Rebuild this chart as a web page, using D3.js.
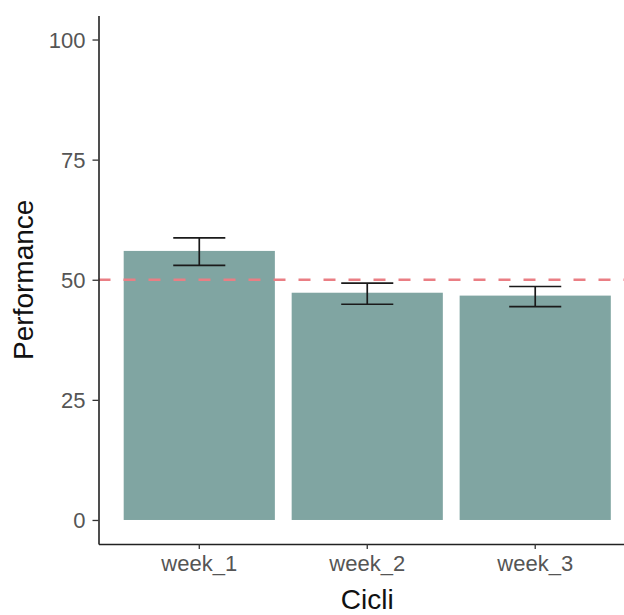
<!DOCTYPE html>
<html>
<head>
<meta charset="utf-8">
<script src="https://cdn.jsdelivr.net/npm/d3@7"></script>
<style>
  body { margin: 0; background: #fff; }
  text { font-family: "Liberation Sans", Arial, sans-serif; }
</style>
</head>
<body>
<div id="wrapper"></div>
<script>
const weeks = ["week_1", "week_2", "week_3"]
const performance = [56.0, 47.3, 46.7]
const errLow = [53.0, 44.9, 44.4]
const errHigh = [58.7, 49.3, 48.6]
const yTicks = [0, 25, 50, 75, 100]
const refLine = 50

function drawChart() {
  const dataset = weeks.map((w, i) => ({
    week: w, value: performance[i], lo: errLow[i], hi: errHigh[i]
  }))

  let dimensions = {
    width: 624,
    height: 615,
    margin: { top: 15.5, right: -12, bottom: 71, left: 98.5 },
  }
  dimensions.boundedWidth = dimensions.width - dimensions.margin.left - dimensions.margin.right
  dimensions.boundedHeight = dimensions.height - dimensions.margin.top - dimensions.margin.bottom

  const wrapper = d3.select("#wrapper")
    .append("svg")
    .attr("width", dimensions.width)
    .attr("height", dimensions.height)

  const bounds = wrapper.append("g")
    .attr("transform", `translate(${dimensions.margin.left},${dimensions.margin.top})`)

  const xScaler = d3.scaleBand()
    .domain(weeks)
    .range([0, dimensions.boundedWidth])
    .paddingInner(0.1)
    .paddingOuter(0.15)

  const yScaler = d3.scaleLinear()
    .domain([-5, 105])
    .range([dimensions.boundedHeight, 0])

  // bars
  bounds.append("g").selectAll("rect")
    .data(dataset)
    .enter()
    .append("rect")
    .attr("x", d => xScaler(d.week))
    .attr("y", d => yScaler(d.value))
    .attr("width", xScaler.bandwidth())
    .attr("height", d => yScaler(0) - yScaler(d.value))
    .attr("fill", "#80a5a2")

  // reference line
  bounds.append("line")
    .attr("x1", 0)
    .attr("x2", dimensions.boundedWidth)
    .attr("y1", yScaler(refLine))
    .attr("y2", yScaler(refLine))
    .attr("stroke", "#ea7e84")
    .attr("stroke-width", 2.5)
    .attr("stroke-dasharray", "12 13")

  // error bars
  const capHalf = xScaler.step() * 0.155
  const errGroups = bounds.append("g").selectAll("g")
    .data(dataset)
    .enter()
    .append("g")
    .attr("stroke", "#1a1a1a")
    .attr("stroke-width", 1.7)
  const cx = d => xScaler(d.week) + xScaler.bandwidth() / 2
  errGroups.append("line")
    .attr("x1", cx).attr("x2", cx)
    .attr("y1", d => yScaler(d.hi)).attr("y2", d => yScaler(d.lo))
  errGroups.append("line")
    .attr("x1", d => cx(d) - capHalf).attr("x2", d => cx(d) + capHalf)
    .attr("y1", d => yScaler(d.hi)).attr("y2", d => yScaler(d.hi))
  errGroups.append("line")
    .attr("x1", d => cx(d) - capHalf).attr("x2", d => cx(d) + capHalf)
    .attr("y1", d => yScaler(d.lo)).attr("y2", d => yScaler(d.lo))

  // axes
  const xAxisGen = d3.axisBottom(xScaler).tickSizeOuter(0).tickSizeInner(5).tickPadding(6)
  const yAxisGen = d3.axisLeft(yScaler).tickValues(yTicks).tickSizeOuter(0).tickSizeInner(6).tickPadding(7)

  const axisX = bounds.append("g")
    .attr("transform", `translate(0,${dimensions.boundedHeight})`)
    .call(xAxisGen)
  const axisY = bounds.append("g").call(yAxisGen)

  for (const ax of [axisX, axisY]) {
    ax.select(".domain").attr("stroke", "#222").attr("stroke-width", 1.6)
    ax.selectAll(".tick line").attr("stroke", "#333").attr("stroke-width", 1.3)
    ax.selectAll(".tick text")
      .attr("fill", "#555")
      .attr("font-size", "22px")
      .style("font-family", "'Liberation Sans', Arial, sans-serif")
  }
  axisY.selectAll(".tick text").attr("dy", "0.36em")

  // titles
  wrapper.append("text")
    .attr("x", dimensions.margin.left + (xScaler("week_2") + xScaler.bandwidth() / 2))
    .attr("y", 609)
    .attr("text-anchor", "middle")
    .attr("font-size", "28px")
    .attr("fill", "#111")
    .text("Cicli")

  wrapper.append("text")
    .attr("transform", `translate(33,${dimensions.margin.top + yScaler(50)}) rotate(-90)`)
    .attr("text-anchor", "middle")
    .attr("font-size", "28px")
    .attr("fill", "#111")
    .text("Performance")
}
drawChart()
</script>
</body>
</html>
